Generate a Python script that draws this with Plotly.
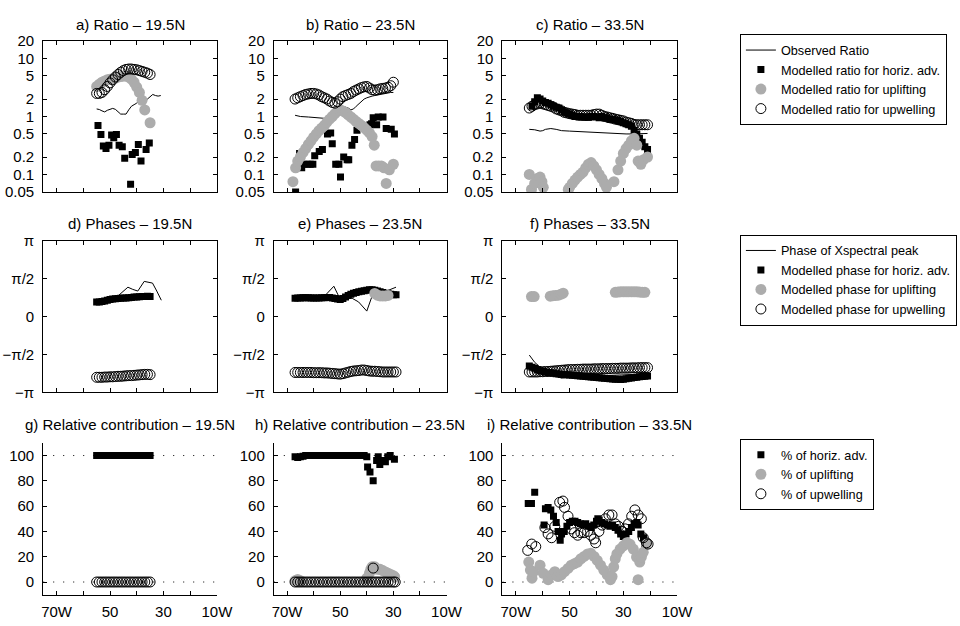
import math
import plotly.graph_objects as go

# ---------------- data (longitude as negative degrees East) ----------------
# a) Ratio - 19.5N
A_OBS_LON = [-55,-54,-53,-52,-51,-50,-49,-48,-47,-46,-45,-44,-43,-42,-41,-40,-39,-38,-37,-36,-35,-34,-33,-32,-31]
A_OBS = [1.35,1.32,1.25,1.2,1.28,1.35,1.38,1.33,1.2,1.1,1.1,1.1,1.3,1.5,1.6,1.7,1.9,2.0,2.1,2.0,2.2,2.4,2.3,2.25,2.3]
A_HOR_LON = [-54.5,-53.4,-52.5,-51.5,-50.4,-49.4,-48.6,-47.6,-46.6,-45.4,-44.5,-42.3,-41.7,-40.5,-39.4,-38.4,-36.5,-35.3]
A_HOR = [0.70,0.49,0.31,0.28,0.32,0.48,0.43,0.49,0.32,0.30,0.19,0.068,0.22,0.24,0.33,0.17,0.27,0.35]
A_UPL_LON = [-55,-54,-53,-52,-51,-50,-49,-48,-47,-46,-45,-44,-43,-42,-41,-40,-39,-38,-37,-35]
A_UPL = [3.3,3.6,3.9,4.1,4.3,4.4,4.5,4.6,4.8,4.9,5.0,5.0,4.8,4.4,3.9,3.2,2.6,1.9,1.3,0.78]
A_UPW_LON = [-55,-54,-53,-52,-51,-50,-49,-48,-47,-46,-45,-44,-43,-42,-41,-40,-39,-38,-37,-36,-35]
A_UPW = [2.5,2.5,2.6,2.9,3.3,3.8,4.3,4.8,5.3,5.8,6.2,6.5,6.6,6.6,6.5,6.4,6.2,6.0,5.8,5.6,5.3]

# b) Ratio - 23.5N
B_OBS_LON = [-67,-65,-62,-59,-56,-54,-53,-52.5,-51,-50,-49,-48,-47,-46,-45,-44,-43,-42,-41,-40,-39,-38,-37,-36,-35,-34,-33,-32,-31,-30]
B_OBS = [1.05,1.0,0.98,0.96,0.93,0.9,0.85,0.82,1.15,1.6,1.5,1.45,1.4,1.3,1.35,1.5,1.65,1.8,2.0,2.1,2.2,2.25,2.3,2.35,2.4,2.5,2.55,2.6,2.6,2.6]
B_HOR_LON = [-66.8,-65.3,-64.5,-63.8,-62.5,-61.3,-60.3,-59.6,-57.9,-56.7,-54.8,-53.6,-53.0,-51.7,-50.5,-49.9,-48.7,-47.4,-46.8,-45.6,-44.6,-43.7,-38.8,-38.2,-37.6,-36.3,-35.7,-33.9,-32.7,-30.8,-29.6]
B_HOR = [0.05,0.23,0.13,0.15,0.15,0.15,0.15,0.21,0.25,0.27,0.5,0.52,0.34,0.15,0.15,0.09,0.2,0.18,0.18,0.32,0.4,0.58,0.72,0.75,0.95,0.72,0.98,0.98,0.62,0.6,0.5]
B_UPL_LON = [-67.8,-66.8,-66,-65,-64,-63,-62,-61,-60,-59,-58,-57,-56,-55,-54,-53,-52,-51,-50,-49,-48,-47,-46,-45,-44,-43,-42,-41,-40,-39,-38,-37.2,-36.5,-35.5,-34.5,-33.5,-32.7,-31.5,-30]
B_UPL = [0.075,0.13,0.17,0.2,0.24,0.28,0.33,0.38,0.44,0.5,0.57,0.63,0.7,0.8,0.9,1.0,1.12,1.25,1.3,1.25,1.17,1.07,0.98,0.9,0.82,0.76,0.7,0.64,0.58,0.52,0.45,0.32,0.14,0.14,0.14,0.13,0.07,0.12,0.15]
B_UPW_LON = [-67,-66,-65,-64,-63,-62,-61,-60,-59,-58,-57,-56,-55,-54,-53,-52,-51,-50,-49,-48,-47,-46,-45,-44,-43,-42,-41,-40,-39,-38,-37,-36,-35,-34,-33,-32,-31,-30]
B_UPW = [2.0,2.1,2.2,2.3,2.4,2.45,2.5,2.5,2.45,2.35,2.2,2.1,2.0,1.85,1.75,1.7,1.8,2.0,2.2,2.3,2.4,2.5,2.7,2.85,3.0,3.15,3.25,3.3,3.1,2.9,2.85,2.9,3.0,3.05,3.1,3.2,3.4,3.9]

# c) Ratio - 33.5N
C_OBS_LON = [-65,-63,-61,-60,-59,-57,-55,-53,-50,-47,-44,-41,-38,-35,-32,-29,-26,-23,-21]
C_OBS = [0.6,0.59,0.56,0.57,0.6,0.62,0.6,0.57,0.56,0.55,0.54,0.53,0.52,0.51,0.5,0.5,0.5,0.51,0.51]
C_HOR_LON = [-64,-63,-62,-61,-60,-59,-58,-57,-56,-55,-54,-53,-52,-51,-50,-49,-48,-47,-46,-45,-44,-43,-42,-41,-40,-39,-38,-37,-36,-35,-34,-33,-32,-31,-30,-29,-28,-27,-26,-25,-24,-23,-22,-21]
C_HOR = [1.5,1.8,2.1,2.0,1.85,1.75,1.7,1.6,1.5,1.45,1.4,1.3,1.2,1.15,1.1,1.05,1.0,1.0,1.0,0.98,0.98,0.97,1.0,1.0,0.98,0.95,1.0,0.95,0.95,0.9,0.9,0.88,0.85,0.82,0.78,0.75,0.72,0.68,0.58,0.5,0.42,0.36,0.3,0.27]
C_UPL_LON = [-65,-64.2,-63,-62,-61,-60.3,-59.8,-50.5,-50,-49,-48,-47,-46,-45,-44,-43,-42,-41,-40,-39,-38,-37,-36.3,-33.5,-32,-31,-30,-29,-28,-27,-26,-25,-24.5,-23.5,-22.5,-21]
C_UPL = [0.1,0.055,0.07,0.085,0.09,0.075,0.06,0.055,0.06,0.07,0.08,0.09,0.1,0.11,0.13,0.15,0.16,0.14,0.12,0.1,0.085,0.07,0.06,0.075,0.12,0.17,0.23,0.28,0.32,0.38,0.42,0.32,0.17,0.15,0.18,0.2]
C_UPW_LON = [-65,-64,-63,-62,-61,-60,-59,-58,-57,-56,-55,-54,-53,-52,-51,-50,-49,-48,-47,-46,-45,-44,-43,-42,-41,-40,-39,-38,-37,-36,-35,-34,-33,-32,-31,-30,-29,-28,-27,-26,-25,-24,-23,-22,-21]
C_UPW = [1.4,1.5,1.6,1.65,1.7,1.65,1.6,1.55,1.5,1.45,1.35,1.3,1.25,1.18,1.15,1.12,1.1,1.08,1.05,1.05,1.05,1.05,1.05,1.05,1.08,1.1,1.1,1.05,1.0,0.98,0.95,0.93,0.9,0.88,0.86,0.84,0.8,0.78,0.76,0.73,0.72,0.72,0.72,0.72,0.72]

# d) Phases - 19.5N
D_OBS_LON = [-55,-53,-51,-49,-47,-45,-43.3,-41.5,-39.6,-37.2,-34.1,-32.5,-30.8]
D_OBS = [0.62,0.65,0.7,0.74,0.85,1.03,1.21,1.12,1.05,1.45,1.38,1.05,0.67]
D_LON = [-55,-54,-53,-52,-51,-50,-49,-48,-47,-46,-45,-44,-43,-42,-41,-40,-39,-38,-37,-36,-35]
D_HOR = [0.6,0.6,0.62,0.64,0.67,0.7,0.72,0.73,0.74,0.75,0.76,0.76,0.77,0.78,0.8,0.8,0.81,0.82,0.82,0.83,0.82]
D_UPW = [-2.52,-2.52,-2.52,-2.51,-2.51,-2.5,-2.5,-2.49,-2.48,-2.48,-2.47,-2.46,-2.45,-2.45,-2.44,-2.43,-2.42,-2.41,-2.4,-2.4,-2.41]

# e) Phases - 23.5N
E_OBS_LON = [-67,-64,-61,-58,-55.4,-52.4,-50.5,-48,-45.5,-43.1,-40,-37,-34.5,-32.6,-29]
E_OBS = [0.85,0.9,0.88,0.85,0.9,1.25,0.82,0.85,0.75,0.6,0.22,1.16,0.92,1.05,1.21]
E_LON = [-67,-66,-65,-64,-63,-62,-61,-60,-59,-58,-57,-56,-55,-54,-53,-52,-51,-50,-49,-48,-47,-46,-45,-44,-43,-42,-41,-40,-39,-38,-37,-36,-35,-34,-33,-32,-31,-30,-29]
E_HOR = [0.75,0.76,0.76,0.77,0.77,0.77,0.76,0.76,0.76,0.76,0.77,0.77,0.78,0.78,0.76,0.74,0.72,0.7,0.74,0.8,0.87,0.92,0.96,0.99,1.02,1.04,1.06,1.08,1.1,1.1,1.08,1.05,1.02,0.99,0.96,0.94,0.92,0.9,0.9]
E_UPL_LON = [-37,-36,-35,-34,-33,-32]
E_UPL = [0.95,0.88,0.85,0.85,0.85,0.87]
E_UPW = [-2.32,-2.32,-2.32,-2.32,-2.32,-2.32,-2.32,-2.33,-2.33,-2.33,-2.33,-2.34,-2.34,-2.35,-2.36,-2.37,-2.38,-2.39,-2.37,-2.34,-2.31,-2.28,-2.26,-2.25,-2.24,-2.22,-2.22,-2.24,-2.26,-2.27,-2.27,-2.28,-2.29,-2.3,-2.3,-2.3,-2.3,-2.3,-2.3]

# f) Phases - 33.5N
F_OBS_LON = [-65,-63,-61,-59,-56,-53,-50,-45,-40,-35,-30,-25,-21]
F_OBS = [-1.6,-1.9,-2.1,-2.3,-2.45,-2.55,-2.5,-2.48,-2.45,-2.45,-2.4,-2.4,-2.4]
F_LON = [-65,-64,-63,-62,-61,-60,-59,-58,-57,-56,-55,-54,-53,-52,-51,-50,-49,-48,-47,-46,-45,-44,-43,-42,-41,-40,-39,-38,-37,-36,-35,-34,-33,-32,-31,-30,-29,-28,-27,-26,-25,-24,-23,-22,-21]
F_HOR = [-2.05,-2.1,-2.15,-2.2,-2.25,-2.27,-2.3,-2.32,-2.33,-2.35,-2.37,-2.38,-2.4,-2.41,-2.42,-2.43,-2.44,-2.45,-2.46,-2.47,-2.48,-2.49,-2.5,-2.51,-2.52,-2.53,-2.54,-2.55,-2.56,-2.57,-2.58,-2.59,-2.6,-2.6,-2.61,-2.6,-2.58,-2.56,-2.55,-2.53,-2.52,-2.5,-2.49,-2.48,-2.47]
F_UPL_LON = [-64.2,-63.2,-57.2,-56.2,-55.2,-54.2,-53.2,-52.4,-33,-32,-31,-30,-29,-28,-27,-26,-25,-24,-23,-22]
F_UPL = [0.82,0.82,0.84,0.86,0.87,0.88,0.92,0.96,1.0,1.01,1.02,1.02,1.02,1.02,1.02,1.02,1.02,1.01,1.0,1.0]
F_UPW = [-2.3,-2.3,-2.3,-2.3,-2.29,-2.29,-2.28,-2.28,-2.27,-2.26,-2.25,-2.24,-2.23,-2.22,-2.21,-2.2,-2.2,-2.2,-2.19,-2.19,-2.18,-2.18,-2.18,-2.18,-2.17,-2.17,-2.17,-2.16,-2.16,-2.16,-2.16,-2.15,-2.15,-2.15,-2.14,-2.14,-2.14,-2.14,-2.13,-2.13,-2.13,-2.12,-2.12,-2.12,-2.12]

# g) Relative contribution - 19.5N
G_LON = [-55,-54,-53,-52,-51,-50,-49,-48,-47,-46,-45,-44,-43,-42,-41,-40,-39,-38,-37,-36,-35]
G_HOR = [100,100,100,100,100,100,100,100,100,100,100,100,100,100,100,100,100,100,100,100,100]
G_UPW = [0,0,0,0,0,0,0,0,0,0,0,0,0,0,0,0,0,0,0,0,0]

# h) Relative contribution - 23.5N
H_HOR_LON = [-67,-66,-65,-64,-63,-62,-61,-60,-59,-58,-57,-56,-55,-54,-53,-52,-51,-50,-49,-48,-47,-46,-45,-44,-43,-42,-41,-40,
             -39.7,-38.8,-37.6,-36.3,-35.7,-35.1,-33.9,-33.0,-32.1,-31.2,-29.6]
H_HOR = [99,98.5,99,99.5,100,100,100,100,100,100,100,100,100,100,100,100,100,100,100,100,100,100,100,100,100,100,100,99,
         91,87,80,96,99,93,96,95,99,100,97]
H_UPL_LON = [-67,-66,-65,-40,-39,-38.5,-38,-37,-36,-35,-34,-33,-32,-31,-30,-29.5]
H_UPL = [1,2,1,3,7,10,12,12,10,10,9,8,7,6,5,4]
H_UPW_LON = [-67,-66,-65,-64,-63,-62,-61,-60,-59,-58,-57,-56,-55,-54,-53,-52,-51,-50,-49,-48,-47,-46,-45,-44,-43,-42,-41,-40,-39,-38,
             -37.6,-37,-36,-35,-34,-33,-32,-31,-30,-29.3]
H_UPW = [0,0,0,0,0,0,0,0,0,0,0,0,0,0,0,0,0,0,0,0,0,0,0,0,0,0,0,0,0,0,11,0,0,0,0,0,0,0,0,0]

# i) Relative contribution - 33.5N
I_HOR_LON = [-65.4,-64.2,-63.0,-59.5,-59,-58,-57,-56,-55,-54.3,-53.5,-53,-52,-51,-50,-49,-48,-47,-46,-45,-44,-43,-42,-41,-40,
             -39.5,-39,-38,-37,-36,-35,-34,-33,-32,-31,-30,-29,-28,-27,-26,-25,-24.5,-23.5,-22.5,-22]
I_HOR = [62,62,71,45,58,59,57,52,47,40,33,38,40,44,47,48,48,47,46,45,46,44,43,45,48,
         50,49,47,46,45,44,45,43,41,38,36,38,40,43,46,47,45,38,35,30]
I_UPL_LON = [-65.2,-64.6,-64.0,-63.4,-61.0,-59.8,-58.0,-56.7,-55.5,-54.3,-53.1,-51.9,-50.6,-49.4,-48.2,-47.0,-45.8,-44.6,-43.3,-42.1,
             -40.9,-39.7,-38.5,-37.3,-36.0,-34.8,-34.2,-33.6,-33.0,-32.4,-31.2,-30.0,-28.7,-27.5,-26.3,-25.1,-24.5,-23.9,-23.3,-22.6,-21.4]
I_UPL = [15.8,9.4,3,8.2,13.3,6.9,1.8,5.6,8.2,4.3,5.6,8.2,10.7,13.3,14.5,15.8,18.4,20.2,22.2,22.7,
         20.2,17.1,13.3,9.4,5.6,1.8,4.3,12,18.4,22.2,26,28.6,31.1,29.8,26,19.7,1.8,15.8,19.7,23.5,30]
I_UPW_LON = [-65.6,-64.1,-62.6,-59.2,-58.0,-56.7,-55.5,-53.7,-52.5,-51.9,-50.6,-49.4,-48.2,-47.0,-45.8,-44.6,-43.3,-42.1,-40.9,-40.3,
             -39.1,-37.9,-36.7,-35.4,-34.2,-33.0,-31.8,-30.6,-29.3,-28.1,-26.9,-25.7,-24.5,-23.3,-22.6,-21.4,-20.8]
I_UPW = [25,30,28,43,38,35,44,63,64,59,52,42,39,37,39,39,40,37,34,31,
         40,45,50,53,53,46,44,40,42,46,52,57,53,50,35,31,30]

TITLES = ["a) Ratio – 19.5N", "b) Ratio – 23.5N", "c) Ratio – 33.5N",
          "d) Phases – 19.5N", "e) Phases – 23.5N", "f) Phases – 33.5N",
          "g) Relative contribution – 19.5N", "h) Relative contribution – 23.5N", "i) Relative contribution – 33.5N"]
X_TICKVALS = [-70, -60, -50, -40, -30, -20, -10]
X_TICKTEXT = ["70W", "", "50", "", "30", "", "10W"]
RATIO_TICKS = [0.05, 0.1, 0.2, 0.5, 1, 2, 5, 10, 20]
RATIO_TEXT = ["0.05", "0.1", "0.2", "0.5", "1", "2", "5", "10", "20"]
PHASE_TICKS = [-math.pi, -math.pi / 2, 0, math.pi / 2, math.pi]
PHASE_TEXT = ["−π", "−π/2", "0", "π/2", "π"]
PCT_TICKS = [0, 20, 40, 60, 80, 100]
LEG1 = ["Observed Ratio", "Modelled ratio for horiz. adv.", "Modelled ratio for uplifting", "Modelled ratio for upwelling"]
LEG2 = ["Phase of Xspectral peak", "Modelled phase for horiz. adv.", "Modelled phase for uplifting", "Modelled phase for upwelling"]
LEG3 = ["% of horiz. adv.", "% of uplifting", "% of upwelling"]

# ---------------- figure ----------------
FONT = "Liberation Sans, Arial, Helvetica, sans-serif"
GRAY = "#acacac"
W, H = 960, 626
XD = [(42 / W, 219 / W), (277 / W, 453 / W), (510 / W, 688 / W)]
YD = [(1 - 188 / H, 1 - 33 / H), (1 - 394 / H, 1 - 238 / H), (1 - 602 / H, 1 - 446 / H)]
TITLE_Y = [1 - 16 / H, 1 - 221 / H, 1 - 427 / H]

fig = go.Figure()


def refs(k):
    return ("x" if k == 1 else f"x{k}"), ("y" if k == 1 else f"y{k}")


def add(k, kind, lon, val, name=None, legend="legend", rank=None):
    xr, yr = refs(k)
    if kind == "line":
        kw = dict(mode="lines", line=dict(color="black", width=1))
    elif kind == "hor":
        kw = dict(mode="markers", marker=dict(symbol="square", size=7, color="black", line=dict(width=0)))
    elif kind == "upl":
        kw = dict(mode="markers", marker=dict(symbol="circle", size=11, color=GRAY, line=dict(width=0)))
    else:
        kw = dict(mode="markers", marker=dict(symbol="circle-open", size=10, color="black", line=dict(width=1)))
    extra = {}
    if rank is not None:
        extra = dict(showlegend=True, legendrank=rank, legend=legend, name=name)
    else:
        extra = dict(showlegend=False, name=kind)
    fig.add_trace(go.Scatter(x=lon, y=val, xaxis=xr, yaxis=yr, hoverinfo="skip", **kw, **extra))


# Row 1: ratios
add(1, "line", A_OBS_LON, A_OBS, LEG1[0], "legend", 1)
add(1, "hor", A_HOR_LON, A_HOR, LEG1[1], "legend", 2)
add(1, "upl", A_UPL_LON, A_UPL, LEG1[2], "legend", 3)
add(1, "upw", A_UPW_LON, A_UPW, LEG1[3], "legend", 4)
add(2, "line", B_OBS_LON, B_OBS)
add(2, "hor", B_HOR_LON, B_HOR)
add(2, "upl", B_UPL_LON, B_UPL)
add(2, "upw", B_UPW_LON, B_UPW)
add(3, "line", C_OBS_LON, C_OBS)
add(3, "hor", C_HOR_LON, C_HOR)
add(3, "upl", C_UPL_LON, C_UPL)
add(3, "upw", C_UPW_LON, C_UPW)

# Row 2: phases
add(4, "line", D_OBS_LON, D_OBS, LEG2[0], "legend2", 1)
add(4, "hor", D_LON, D_HOR, LEG2[1], "legend2", 2)
add(4, "upw", D_LON, D_UPW, LEG2[3], "legend2", 4)
add(5, "line", E_OBS_LON, E_OBS)
add(5, "hor", E_LON, E_HOR)
add(5, "upl", E_UPL_LON, E_UPL, LEG2[2], "legend2", 3)
add(5, "upw", E_LON, E_UPW)
add(6, "line", F_OBS_LON, F_OBS)
add(6, "hor", F_LON, F_HOR)
add(6, "upl", F_UPL_LON, F_UPL)
add(6, "upw", F_LON, F_UPW)

# Row 3: relative contributions
add(7, "hor", G_LON, G_HOR, LEG3[0], "legend3", 1)
add(7, "upw", G_LON, G_UPW, LEG3[2], "legend3", 3)
add(8, "hor", H_HOR_LON, H_HOR)
add(8, "upl", H_UPL_LON, H_UPL, LEG3[1], "legend3", 2)
add(8, "upw", H_UPW_LON, H_UPW)
add(9, "hor", I_HOR_LON, I_HOR)
add(9, "upl", I_UPL_LON, I_UPL)
add(9, "upw", I_UPW_LON, I_UPW)

tickfont = dict(family=FONT, size=15, color="black")
layout = {}
shapes = []
annotations = []
for r in range(3):
    for c in range(3):
        k = r * 3 + c + 1
        xr, yr = refs(k)
        xname = "xaxis" if k == 1 else f"xaxis{k}"
        yname = "yaxis" if k == 1 else f"yaxis{k}"
        common = dict(showline=True, linecolor="black", linewidth=1, ticks="inside", ticklen=4,
                      tickcolor="black", showgrid=False, zeroline=False, tickfont=tickfont)
        xa = dict(domain=XD[c], anchor=yr, range=[-75, -10], tickvals=X_TICKVALS, ticktext=X_TICKTEXT, **common)
        ya = dict(domain=YD[r], anchor=xr, **common)
        if r < 2:
            xa.update(mirror="allticks", showticklabels=False)
            ya.update(mirror="allticks")
        else:
            xa.update(ticklabelstandoff=3)
        if r == 0:
            ya.update(type="log", range=[math.log10(0.05), math.log10(20)], tickvals=RATIO_TICKS, ticktext=RATIO_TEXT)
        elif r == 1:
            ya.update(range=[-math.pi, math.pi], tickvals=PHASE_TICKS, ticktext=PHASE_TEXT)
        else:
            ya.update(range=[-10, 110], tickvals=PCT_TICKS)
            for yv in (0, 100):
                shapes.append(dict(type="line", xref=xr, yref=yr, x0=-75, x1=-10, y0=yv, y1=yv, layer="below",
                                   line=dict(color="black", width=1, dash="1px,9px")))
        ya.update(ticklabelstandoff=5)
        layout[xname] = xa
        layout[yname] = ya
        annotations.append(dict(text=TITLES[k - 1], xref="paper", yref="paper", x=(XD[c][0] + XD[c][1]) / 2,
                                y=TITLE_Y[r], xanchor="center", yanchor="middle", showarrow=False,
                                font=dict(family=FONT, size=15, color="black")))

legfont = dict(family=FONT, size=12.7, color="black")
legcommon = dict(xanchor="left", yanchor="top", bordercolor="black", borderwidth=1, bgcolor="white",
                 font=legfont, tracegroupgap=0, itemwidth=30, traceorder="normal")

fig.update_layout(
    width=W, height=H, margin=dict(l=0, r=0, t=0, b=0),
    paper_bgcolor="white", plot_bgcolor="white",
    font=dict(family=FONT, color="black"),
    shapes=shapes, annotations=annotations,
    legend=dict(x=752 / W, y=1 - 26 / H, **legcommon),
    legend2=dict(x=752 / W, y=1 - 232 / H, **legcommon),
    legend3=dict(x=752 / W, y=1 - 442 / H, **legcommon),
    **layout,
)

fig.write_html("out.html")
